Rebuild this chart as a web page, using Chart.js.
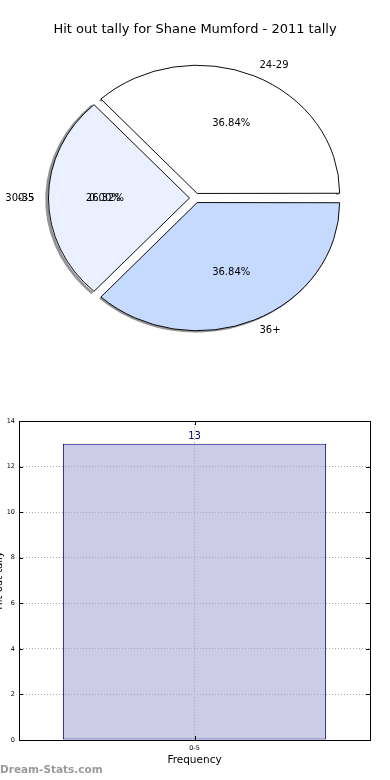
<!DOCTYPE html>
<html>
<head>
<meta charset="utf-8">
<script src="https://cdn.jsdelivr.net/npm/chart.js@4.4.1/dist/chart.umd.min.js"></script>
<style>
    html, body { margin: 0; padding: 0; background: #fff; }
    canvas { display: block; }
</style>
</head>
<body>
<canvas id="pieChart" width="390" height="380"></canvas>
<canvas id="barChart" width="390" height="400"></canvas>
<script>
// Pie data
const chartTitle = "Hit out tally for Shane Mumford - 2011 tally";
const tallyRanges = ["0-5", "24-29", "30-35", "36+"];
const rangeCounts = [0, 7, 5, 7];
const sliceColors = ["#ffffff", "#ffffff", "#eaf0ff", "#c6d9ff"];

// Bar data
const binLabels = ["0-5"];
const binFrequency = [13];
const yAxisMax = 14;
const yAxisStep = 2;
const xAxisTitle = "Frequency";
const yAxisTitle = "Hit out tally";
const watermark = "Dream-Stats.com";

const FONT = "'DejaVu Sans', 'Liberation Sans', sans-serif";
const SQUASH = 0.9;    // pie is drawn slightly flattened like the original
const EXPLODE = 5.5;   // px each wedge is pushed out
const RADIUS = 141;

const total = rangeCounts.reduce((s, v) => s + v, 0);

const piePlugin = {
    id: "pieExtras",
    beforeDatasetsDraw(chart) {
        const ctx = chart.ctx;
        const arcs = chart.getDatasetMeta(0).data;
        const cy = arcs[0].y;
        ctx.save();
        // flip + flatten so wedges run counter-clockwise from 3 o'clock
        ctx.translate(0, cy);
        ctx.scale(1, -SQUASH);
        ctx.translate(0, -cy);

        // shadow along the outer rim
        arcs.forEach(a => {
            if (a.endAngle - a.startAngle <= 0) return;
            const h = (a.startAngle + a.endAngle) / 2;
            ctx.save();
            ctx.translate(Math.cos(h) * EXPLODE - 1.3, Math.sin(h) * EXPLODE - 1.5);
            ctx.beginPath();
            ctx.arc(a.x, a.y, a.outerRadius + 0.5, a.startAngle, a.endAngle);
            ctx.lineWidth = 3;
            ctx.strokeStyle = "rgba(60,60,60,0.55)";
            ctx.stroke();
            ctx.restore();
        });
    },
    afterDatasetsDraw(chart) {
        const ctx = chart.ctx;
        ctx.restore();

        const arcs = chart.getDatasetMeta(0).data;
        const cx = arcs[0].x, cy = arcs[0].y;

        ctx.save();
        ctx.fillStyle = "#000";
        ctx.textBaseline = "middle";
        ctx.font = "10px " + FONT;
        arcs.forEach((a, i) => {
            // empty slices get their label on the left like the original
            const h = rangeCounts[i] === 0 ? Math.PI : (a.startAngle + a.endAngle) / 2;
            const pos = k => ({
                x: cx + (EXPLODE + k * RADIUS) * Math.cos(h),
                y: cy - SQUASH * (EXPLODE + k * RADIUS) * Math.sin(h)
            });
            const lp = pos(1.1);
            ctx.textAlign = Math.cos(h) > 0 ? "left" : "right";
            ctx.fillText(tallyRanges[i], lp.x, lp.y);

            const pp = pos(0.6);
            ctx.textAlign = "center";
            ctx.fillText((rangeCounts[i] / total * 100).toFixed(2) + "%", pp.x, pp.y);
        });

        ctx.font = "13px " + FONT;
        ctx.textAlign = "center";
        ctx.fillText(chartTitle, 195, 30);
        ctx.restore();
    }
};

new Chart(document.getElementById("pieChart"), {
    type: "pie",
    data: {
        labels: tallyRanges,
        datasets: [{
            data: rangeCounts,
            backgroundColor: sliceColors,
            borderColor: "#000",
            borderWidth: 1,
            offset: EXPLODE * 4,
            hoverOffset: 0,
            radius: RADIUS,
            clip: false
        }]
    },
    options: {
        responsive: false,
        animation: false,
        rotation: 90,
        layout: { padding: { top: 40, bottom: 24, left: 20, right: 20 } },
        plugins: { legend: { display: false }, tooltip: { enabled: false } }
    },
    plugins: [piePlugin]
});

const barPlugin = {
    id: "barExtras",
    afterDraw(chart) {
        const { ctx, chartArea: a, scales: { x, y } } = chart;
        ctx.save();

        // inside tick marks
        ctx.strokeStyle = "#000";
        ctx.lineWidth = 1;
        ctx.beginPath();
        y.ticks.forEach(t => {
            const py = Math.round(y.getPixelForValue(t.value)) + 0.5;
            ctx.moveTo(a.left, py); ctx.lineTo(a.left + 4, py);
            ctx.moveTo(a.right, py); ctx.lineTo(a.right - 4, py);
        });
        binLabels.forEach((l, i) => {
            const px = Math.round(x.getPixelForTick(i)) + 0.5;
            ctx.moveTo(px, a.bottom); ctx.lineTo(px, a.bottom - 4);
            ctx.moveTo(px, a.top); ctx.lineTo(px, a.top + 4);
        });
        ctx.stroke();

        // box
        ctx.strokeRect(Math.round(a.left) + 0.5, Math.round(a.top) + 0.5,
            Math.round(a.right - a.left), Math.round(a.bottom - a.top));

        // value on top of the bar
        ctx.fillStyle = "#00007a";
        ctx.font = "10px " + FONT;
        ctx.textAlign = "center";
        ctx.textBaseline = "bottom";
        chart.getDatasetMeta(0).data.forEach((bar, i) => {
            ctx.fillText(String(binFrequency[i]), bar.x, bar.y - 2);
        });

        // axis titles
        ctx.fillStyle = "#000";
        ctx.font = "10.5px " + FONT;
        ctx.textBaseline = "middle";
        ctx.fillText(xAxisTitle, (a.left + a.right) / 2, 380);

        ctx.save();
        ctx.translate(1.5, (a.top + a.bottom) / 2);
        ctx.rotate(-Math.PI / 2);
        ctx.textBaseline = "alphabetic";
        ctx.font = "10px " + FONT;
        ctx.fillText(yAxisTitle, 0, 0);
        ctx.restore();

        // watermark
        ctx.fillStyle = "rgba(120,120,120,0.75)";
        ctx.font = "bold 10.5px " + FONT;
        ctx.textAlign = "left";
        ctx.fillText(watermark, 0, 390);
        ctx.restore();
    }
};

new Chart(document.getElementById("barChart"), {
    type: "bar",
    data: {
        labels: binLabels,
        datasets: [{
            data: binFrequency,
            backgroundColor: "#ccccE6",
            borderColor: "#00008b",
            borderWidth: 1,
            borderSkipped: false,
            barPercentage: 0.75,
            categoryPercentage: 1
        }]
    },
    options: {
        responsive: false,
        animation: false,
        layout: { padding: { top: 41, right: 20, bottom: 0, left: 0 } },
        plugins: { legend: { display: false }, tooltip: { enabled: false } },
        scales: {
            x: {
                afterFit(scale) { scale.height = 40; },
                grid: { offset: false, color: "#aaaaaa", drawTicks: false, z: 1 },
                border: { color: "#000", width: 1, dash: [1, 2], z: 1 },
                ticks: { color: "#000", font: { family: FONT, size: 6.5 }, padding: 4 }
            },
            y: {
                min: 0,
                max: yAxisMax,
                afterFit(scale) { scale.width = 19; },
                grid: { color: "#aaaaaa", drawTicks: false, z: 1 },
                border: { color: "#000", width: 1, dash: [1, 2], z: 1 },
                ticks: { stepSize: yAxisStep, color: "#000", font: { family: FONT, size: 6.5 }, padding: 4 }
            }
        }
    },
    plugins: [barPlugin]
});
</script>
</body>
</html>
